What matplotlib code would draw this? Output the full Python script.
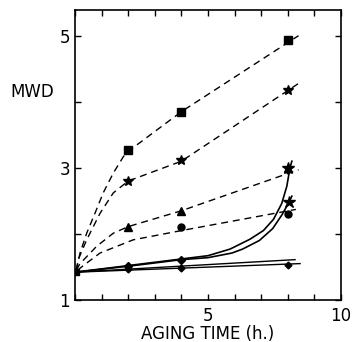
import matplotlib
matplotlib.use("Agg")
import matplotlib.pyplot as plt

# ------------------------------------------------------------------
# dashed series (markers + guide curves)
sq_x = [2, 4, 8]
sq_y = [3.27, 3.84, 4.93]
sq_cx = [0.05, 0.19, 0.44, 0.75, 1.06, 1.44, 1.82, 2.07, 4.0, 8.4]
sq_cy = [1.45, 1.71, 2.01, 2.31, 2.62, 2.92, 3.17, 3.27, 3.85, 5.0]

st_x = [2, 4, 8]
st_y = [2.80, 3.12, 4.18]
st_cx = [0.05, 0.12, 0.44, 0.94, 1.44, 2.0, 4.0, 8.45]
st_cy = [1.45, 1.61, 1.91, 2.31, 2.62, 2.8, 3.1, 4.29]

tr_x = [2, 4, 8]
tr_y = [2.11, 2.34, 2.99]
tr_cx = [0.05, 0.19, 0.81, 1.44, 2.0, 4.0, 8.4]
tr_cy = [1.45, 1.55, 1.81, 2.01, 2.11, 2.35, 2.97]

ci_x = [4, 8]
ci_y = [2.10, 2.30]
ci_cx = [0.1, 0.25, 0.94, 2.19, 4.0, 8.3]
ci_cy = [1.45, 1.50, 1.71, 1.91, 2.05, 2.37]

# solid series
curve_a_x = [0, 2, 4, 5, 5.83, 6.58, 7.08, 7.46, 7.77, 7.96, 8.08, 8.15]
curve_a_y = [1.42, 1.52, 1.62, 1.67, 1.77, 1.92, 2.05, 2.22, 2.46, 2.72, 3.0, 3.1]
curve_b_x = [0, 2, 4, 5, 5.9, 6.3, 6.93, 7.43, 7.78, 8.03, 8.15]
curve_b_y = [1.42, 1.51, 1.61, 1.64, 1.71, 1.77, 1.9, 2.08, 2.29, 2.47, 2.57]
line_1_x = [0, 8.27]
line_1_y = [1.42, 1.61]
line_2_x = [0, 8.46]
line_2_y = [1.42, 1.55]

big_st_x = [8, 8.05]
big_st_y = [2.99, 2.48]
up_pt_x = [2, 4]
up_pt_y = [1.52, 1.61]
lo_pt_x = [2, 4, 8]
lo_pt_y = [1.47, 1.49, 1.53]
start_x = [0.05]
start_y = [1.42]
# ------------------------------------------------------------------


def main():
    fig = plt.figure(figsize=(3.52, 3.42), dpi=100)
    ax = fig.add_axes([0.213, 0.123, 0.756, 0.848])

    dash = dict(color="black", lw=1.0, ls=(0, (5, 3.5)))
    ax.plot(sq_cx, sq_cy, **dash)
    ax.plot(st_cx, st_cy, **dash)
    ax.plot(tr_cx, tr_cy, **dash)
    ax.plot(ci_cx, ci_cy, **dash)

    solid = dict(color="black", lw=1.2)
    ax.plot(curve_a_x, curve_a_y, **solid)
    ax.plot(curve_b_x, curve_b_y, **solid)
    ax.plot(line_1_x, line_1_y, color="black", lw=1.0)
    ax.plot(line_2_x, line_2_y, color="black", lw=1.0)

    ax.plot(sq_x, sq_y, "s", color="black", ms=5.5)
    ax.plot(st_x, st_y, "*", color="black", ms=7.5)
    ax.plot(tr_x, tr_y, "^", color="black", ms=5.5)
    ax.plot(ci_x, ci_y, "o", color="black", ms=5)
    ax.plot(big_st_x, big_st_y, "*", color="black", ms=9)
    ax.plot(up_pt_x, up_pt_y, "D", color="black", ms=4)
    ax.plot(lo_pt_x, lo_pt_y, "D", color="black", ms=3.5)
    ax.plot(start_x, start_y, "s", color="black", ms=5)

    ax.set_xlim(0, 10)
    ax.set_ylim(1, 5.39)
    ax.set_xticks(range(0, 11))
    ax.set_xticklabels(["", "", "", "", "", "5", "", "", "", "", "10"])
    ax.set_yticks([1, 2, 3, 4, 5])
    ax.set_yticklabels(["1", "", "3", "", "5"])
    ax.tick_params(direction="in", length=4, width=1.0, top=True, right=True,
                   labelsize=12)
    ax.tick_params(axis="x", pad=5)
    for s in ax.spines.values():
        s.set_linewidth(1.2)

    ax.set_xlabel("AGING TIME (h.)", fontsize=12, labelpad=0)
    fig.text(0.03, 0.73, "MWD", fontsize=12, ha="left", va="center")

    fig.savefig("out.png", dpi=100)


if __name__ == "__main__":
    main()
